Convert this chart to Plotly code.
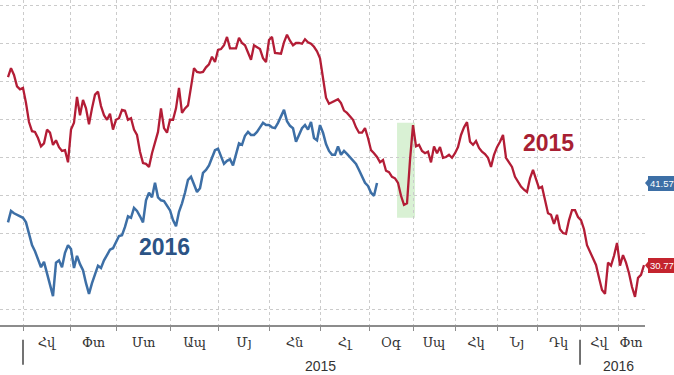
import plotly.graph_objects as go

red_2015 = [55.5, 56.7, 55.8, 54.3, 53.9, 54.1, 52.1, 49.6, 48.4, 48.3,
            47.5, 46.4, 46.8, 48.6, 48.2, 46.6, 47.2, 46.3, 45.8, 45.9,
            44.3, 48.6, 49.5, 52.9, 50.5, 52.5, 51.4, 49.3, 51.4, 53.2,
            53.6, 51.7, 50.5, 49.9, 50.7, 48.6, 49.9, 50.1, 51.2, 51.1,
            49.9, 50.1, 48.6, 47.9, 45.7, 44.2, 44.1, 43.7, 45.5, 47.1,
            48.3, 51.4, 48.8, 48.2, 49.9, 49.9, 51.4, 54.1, 50.8, 51.4,
            51.8, 54.2, 56.7, 56.2, 56.1, 56.2, 56.8, 57.2, 58.2, 57.5,
            59.1, 59.2, 59.7, 60.8, 59.3, 59.3, 59.3, 60.7, 60.0, 59.7,
            58.7, 57.8, 59.7, 59.5, 59.2, 58.0, 57.5, 60.4, 60.8, 58.7,
            58.6, 58.6, 60.1, 61.1, 60.3, 59.7, 60.0, 60.0, 59.9, 60.5,
            60.1, 59.9, 59.5, 58.9, 58.0, 55.4, 52.8, 52.0, 52.2, 52.4,
            52.6, 52.1, 51.1, 50.8, 50.4, 49.9, 48.9, 48.2, 48.2, 48.8,
            47.5, 45.9, 45.5, 45.0, 44.3, 44.6, 43.2, 43.0, 42.4, 42.2,
            41.6, 39.9, 38.7, 38.9, 44.6, 49.2, 46.4, 46.6, 45.8, 45.5,
            45.7, 44.3, 46.4, 45.5, 46.3, 44.9, 45.0, 45.3, 44.9, 45.5,
            46.3, 47.9, 48.9, 49.6, 47.0, 46.6, 47.1, 46.2, 45.7, 45.4,
            44.9, 43.7, 45.3, 46.3, 47.0, 47.9, 44.9, 44.2, 43.7, 42.4,
            41.8, 41.1, 40.7, 40.4, 42.2, 43.3, 42.1, 40.9, 41.1, 39.2,
            37.6, 37.4, 36.2, 37.4, 35.5, 35.0, 34.9, 36.7, 38.0, 38.0,
            37.1, 36.7, 35.5, 33.4, 32.5, 31.7, 30.8, 29.1, 27.5, 27.0,
            31.1, 30.7, 32.0, 33.7, 30.7, 32.1, 31.1, 29.7, 27.9, 26.6,
            29.1, 29.5, 30.77]

blue_2016 = [36.4, 37.9, 37.6, 37.4, 37.2, 37.0, 36.4, 34.9, 33.4, 32.6,
             31.4, 30.5, 31.2, 29.7, 28.4, 26.7, 31.1, 31.4, 30.5, 32.4,
             33.4, 32.9, 30.4, 32.0, 30.9, 30.1, 28.4, 27.0, 28.4, 29.5,
             30.7, 30.4, 31.4, 32.1, 32.8, 33.0, 33.7, 34.6, 34.7, 35.8,
             37.2, 37.0, 38.3, 37.9, 37.2, 36.4, 39.3, 40.3, 39.7, 41.6,
             39.7, 39.3, 39.2, 38.6, 38.0, 36.7, 35.9, 37.8, 38.9, 40.3,
             42.0, 42.4, 41.3, 40.4, 40.9, 42.9, 43.3, 43.9, 44.9, 45.9,
             46.1, 45.0, 44.1, 44.5, 44.7, 43.9, 45.3, 46.8, 46.6, 47.8,
             48.3, 47.9, 47.9, 48.3, 48.9, 49.5, 49.2, 49.2, 48.9, 48.8,
             49.5, 50.3, 51.2, 49.7, 49.1, 48.8, 47.0, 47.9, 48.8, 49.2,
             48.6, 49.6, 47.5, 47.2, 49.2, 48.2, 46.7, 45.8, 45.3, 45.3,
             46.4, 45.3, 45.8, 45.4, 45.0, 44.5, 44.1, 43.3, 42.4, 41.6,
             41.2, 40.3, 39.9, 41.57]

# observation index at which each month starts (Jan 2015 ... Feb 2016)
month_starts = [5, 20.67, 36.33, 54, 70.33, 87, 104, 120.33, 135, 149,
                163, 176.33, 190.67, 203.33]
month_labels = ["Հվ", "Փտ", "Մտ", "Ապ", "Մյ", "Հն", "Հլ", "Օգ", "Սպ", "Հկ",
                "Նյ", "Դկ", "Հվ", "Փտ"]
year_labels = ["2015", "2016"]
highlight_span = [129.67, 135.67]   # green highlighted window (obs index)
highlight_range = [37.0, 49.5]

RED = "#b31d36"
BLUE = "#3d6fa6"
GRID = "#cbcbcb"

x_end = len(red_2015) - 1
label_pos = [(month_starts[i] + month_starts[i + 1]) / 2 for i in range(len(month_starts) - 1)]
label_pos.append((month_starts[-1] + x_end) / 2)

fig = go.Figure()
fig.add_trace(go.Scatter(x=list(range(len(blue_2016))), y=blue_2016, mode="lines",
                         line=dict(color=BLUE, width=2.5), hoverinfo="skip"))
fig.add_trace(go.Scatter(x=list(range(len(red_2015))), y=red_2015, mode="lines",
                         line=dict(color=RED, width=2.3), hoverinfo="skip"))

fig.update_layout(
    width=674, height=375,
    margin=dict(l=0, r=29, t=0, b=50),
    paper_bgcolor="white", plot_bgcolor="white",
    showlegend=False,
    xaxis=dict(
        range=[-8 / 3, 212.33],
        tickmode="array", tickvals=label_pos, ticktext=month_labels,
        ticks="outside", ticklen=5, tickcolor="rgba(0,0,0,0)",
        tickfont=dict(family="DejaVu Serif", size=13, color="#333"),
        showgrid=False, zeroline=False,
        showline=True, linecolor="#8c8c8c", linewidth=1.5,
        minor=dict(tickmode="array", tickvals=month_starts, showgrid=True,
                   gridcolor=GRID, griddash="dot", gridwidth=1,
                   ticks="outside", ticklen=4, tickcolor="#8c8c8c"),
    ),
    yaxis=dict(
        range=[22.895, 65.66], tickmode="linear", tick0=0, dtick=5,
        showticklabels=False, showgrid=True, gridcolor=GRID, griddash="dot",
        gridwidth=1, zeroline=False, showline=False, ticks="",
    ),
)

# highlighted window
fig.add_shape(type="rect", xref="x", yref="y",
              x0=highlight_span[0], x1=highlight_span[1],
              y0=highlight_range[0], y1=highlight_range[1],
              fillcolor="rgba(170,225,160,0.45)", line=dict(width=0), layer="below")

# year separators below the axis
for xs in (month_starts[0], month_starts[12]):
    fig.add_shape(type="line", xref="x", yref="paper", x0=xs, x1=xs,
                  y0=-0.045, y1=-0.122, line=dict(color="#444", width=1.5))

# series labels
fig.add_annotation(x=180.3, y=46.8, text="<b>2015</b>", showarrow=False,
                   font=dict(family="Liberation Sans", size=23, color="#a81f33"))
fig.add_annotation(x=52.3, y=33.2, text="<b>2016</b>", showarrow=False,
                   font=dict(family="Liberation Sans", size=23, color="#2b5385"))

# year labels under month labels
for txt, xs in zip(year_labels, (month_starts[6], month_starts[13])):
    fig.add_annotation(x=xs, y=-0.126, xref="x", yref="paper", text=txt,
                       showarrow=False, yanchor="middle",
                       font=dict(family="Liberation Sans", size=14, color="#333"))

# last-value boxes on the right
for val, col in ((blue_2016[-1], BLUE), (red_2015[-1], "#c4242e")):
    fig.add_annotation(x=1, xref="paper", y=val, yref="y", xanchor="left",
                       xshift=3, text=f"{val:.2f}", showarrow=False,
                       bgcolor=col, bordercolor=col, borderpad=1,
                       font=dict(family="Liberation Sans", size=9.5, color="white"))
    fig.add_shape(type="path", xref="paper", yref="y",
                  xsizemode="pixel", ysizemode="pixel", xanchor=1, yanchor=val,
                  path="M 0 0 L 5 6 L 5 -6 Z", fillcolor=col, line=dict(width=0))

fig.write_html("out.html", config={"displayModeBar": False},
               post_script="document.body.style.margin='0px';document.body.style.overflow='hidden';")
